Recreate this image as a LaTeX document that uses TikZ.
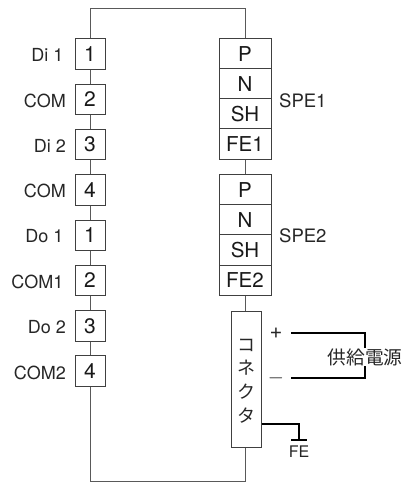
\documentclass[tikz,border=0pt]{standalone}
\usepackage{fontspec}
\setmainfont{TeX Gyre Heros}
\newfontfamily\cjk{Noto Sans CJK JP}
\tikzset{
  x=1pt,y=-1pt,
  wire/.style={draw=black!65,line width=1pt},
  heavy/.style={draw=black,line width=1.1pt},
  term/.style={draw=black!75,line width=1pt,fill=white,minimum width=30pt,minimum height=30.5pt,inner sep=0pt,font=\fontsize{21}{22}\selectfont,text=black!90},
  wide/.style={term,minimum width=52pt,font=\fontsize{20.5}{22}\selectfont},
  lab/.style={inner sep=0pt,anchor=east,font=\fontsize{18}{20}\selectfont,text=black!85},
  side/.style={inner sep=0pt,anchor=west,font=\fontsize{18.5}{20}\selectfont,text=black!85},
  conn/.style={term,minimum height=136pt},
  kana/.style={inner sep=0pt,font=\cjk\fontsize{18}{20}\selectfont,text=black!85}
}
\begin{document}
\begin{tikzpicture}
\useasboundingbox (0,0) rectangle (403,482);
% left terminals
\node[term] (a1) at (90,54) {1};
\node[term] (a2) at (90,99.5) {2};
\node[term] (a3) at (90,144.5) {3};
\node[term] (a4) at (90,190) {4};
\node[term] (b1) at (90,235.5) {1};
\node[term] (b2) at (90,280.5) {2};
\node[term] (b3) at (90,326) {3};
\node[term] (b4) at (90,371) {4};
% right terminals
\node[wide] (p1) at (245,54) {P};
\node[wide] (n1) at (245,84) {N};
\node[wide] (s1) at (245,114) {SH};
\node[wide] (f1) at (245,144) {FE1};
\node[wide] (p2) at (245,190) {P};
\node[wide] (n2) at (245,220) {N};
\node[wide] (s2) at (245,250) {SH};
\node[wide] (f2) at (245,280.5) {FE2};
\node[conn] (c) at (246,379) {};
\coordinate (tl) at (90,8.5);
\coordinate (tr) at (245,8.5);
\coordinate (bl) at (90,481);
\coordinate (br) at (245,481);
\draw[wire] (a1) -- (tl) -- (tr) -- (p1);
\draw[wire] (a1) -- (a2);
\draw[wire] (a2) -- (a3);
\draw[wire] (a3) -- (a4);
\draw[wire] (a4) -- (b1);
\draw[wire] (b1) -- (b2);
\draw[wire] (b2) -- (b3);
\draw[wire] (b3) -- (b4);
\draw[wire] (b4) -- (bl) -- (br) -- (br|-c.south);
\draw[wire] (f1) -- (p2);
\draw[wire] (f2.south) -- (f2.south|-c.north);
% labels
\node[lab] at (63.5,55) {Di 1};
\node[lab] at (66,100.5) {COM};
\node[lab] at (66,145.5) {Di 2};
\node[lab] at (66,191) {COM};
\node[lab] at (63.5,236.5) {Do 1};
\node[lab] at (63.5,281.5) {COM1};
\node[lab] at (66,327) {Do 2};
\node[lab] at (66,372.5) {COM2};
\node[side] at (279,101) {SPE1};
\node[side] at (279,236) {SPE2};
% connector text
\node[kana] at (246,345) {コ};
\node[kana] at (246,368) {ネ};
\node[kana] at (246,392) {ク};
\node[kana] at (246,416) {タ};
% power supply
\node[inner sep=0pt,font=\fontsize{22}{22}\selectfont,text=black!85] (plus) at (276,333) {+};
\node[inner sep=0pt,font=\fontsize{20}{22}\selectfont,text=black!85] (minus) at (276,378) {$-$};
\node[inner sep=0pt,font=\cjk\fontsize{18.7}{20}\selectfont,text=black!85] (ps) at (365,357) {供給電源};
\coordinate (pa) at (291,333);
\coordinate (pb) at (365,333);
\coordinate (ma) at (291,378);
\coordinate (mb) at (365,378);
\draw[heavy] (pa) -- (pb) -- (ps.north-|pb);
\draw[heavy] (ma) -- (mb) -- (ps.south-|mb);
% FE
\coordinate (ce) at (c.east|-0,424);
\coordinate (fc) at (299,424);
\coordinate (fg) at (299,440);
\draw[heavy] (ce) -- (fc) -- (fg);
\draw[heavy] (291,440) -- (307,440);
\node[inner sep=0pt,font=\fontsize{16}{17}\selectfont,text=black!85] (fe) at (299,451.5) {FE};
\end{tikzpicture}
\end{document}
